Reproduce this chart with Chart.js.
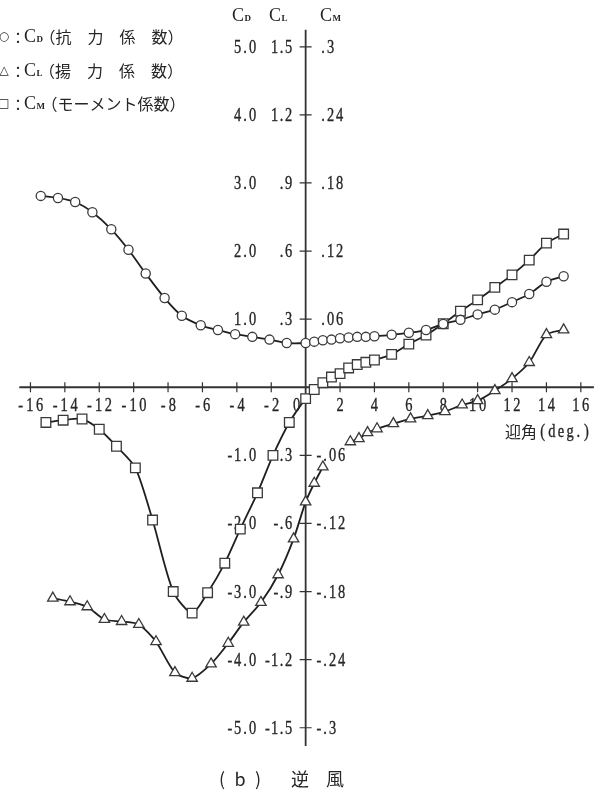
<!DOCTYPE html>
<html>
<head>
<meta charset="utf-8">
<script src="https://cdn.jsdelivr.net/npm/chart.js@4.4.0/dist/chart.umd.min.js"></script>
<style>
  html, body { margin: 0; padding: 0; background: #fff; }
  #wrap { width: 602px; height: 801px; }
</style>
</head>
<body>
<div id="wrap"><canvas id="chart" width="602" height="801"></canvas></div>
<script>
// angle of attack (deg) and coefficients
const cdAngle = [-15.4, -14.4, -13.4, -12.4, -11.3, -10.3, -9.3, -8.2, -7.2, -6.1, -5.1, -4.1, -3.1, -2.1, -1.1,
  0, 0.5, 1, 1.5, 2, 2.5, 3, 3.5, 4, 5, 6, 7, 8, 9, 10, 11, 12, 13, 14, 15];
const cdValue = [2.81, 2.78, 2.72, 2.57, 2.32, 2.02, 1.67, 1.31, 1.05, 0.91, 0.84, 0.78, 0.74, 0.70, 0.65,
  0.65, 0.67, 0.69, 0.70, 0.72, 0.73, 0.74, 0.74, 0.75, 0.77, 0.80, 0.84, 0.93, 0.99, 1.07, 1.14, 1.25, 1.37, 1.55, 1.63];

const clAngle = [-14.7, -13.7, -12.7, -11.7, -10.7, -9.7, -8.7, -7.6, -6.6, -5.5, -4.5, -3.6, -2.6, -1.6, -0.7,
  0, 0.5, 1, 2, 2.6, 3.1, 3.6, 4.15, 5.1, 6.1, 7.1, 8.1, 9.1, 10, 11, 12, 13, 14, 15];
const clValue = [-0.929, -0.945, -0.967, -1.023, -1.032, -1.045, -1.121, -1.257, -1.282, -1.219, -1.128, -1.035, -0.948, -0.826, -0.668,
  -0.505, -0.423, -0.351, null, -0.240, -0.226, -0.200, -0.183, -0.160, -0.139, -0.125, -0.107, -0.078, -0.059, -0.015, 0.038, 0.109, 0.232, 0.253];

const cmAngle = [-15.1, -14.1, -13, -12, -11, -9.9, -8.9, -7.7, -6.6, -5.7, -4.7, -3.8, -2.8, -1.9, -0.95,
  0, 0.5, 1, 1.5, 2, 2.5, 3, 3.5, 4, 5, 6, 7, 8, 9, 10, 11, 12, 13, 14, 15];
const cmValue = [-0.031, -0.029, -0.028, -0.037, -0.052, -0.071, -0.117, -0.180, -0.199, -0.181, -0.155, -0.125, -0.093, -0.060, -0.031,
  -0.010, -0.002, 0.004, 0.009, 0.012, 0.017, 0.020, 0.022, 0.024, 0.029, 0.038, 0.046, 0.056, 0.067, 0.077, 0.088, 0.099, 0.112, 0.127, 0.135];

// tick labels
const xTicks = [-16, -14, -12, -10, -8, -6, -4, -2, 0, 2, 4, 6, 8, 10, 12, 14, 16];
const cdTicks = [5, 4, 3, 2, 1, -1, -2, -3, -4, -5];
const cdTickLabels = ['5.0', '4.0', '3.0', '2.0', '1.0', '-1.0', '-2.0', '-3.0', '-4.0', '-5.0'];
const clTickLabels = ['1.5', '1.2', '.9', '.6', '.3', '-.3', '-.6', '-.9', '-1.2', '-1.5'];
const cmTickLabels = ['.3', '.24', '.18', '.12', '.06', '-.06', '-.12', '-.18', '-.24', '-.3'];

const serif = '"Liberation Serif", "DejaVu Serif", serif';
const cjk = '"Noto Sans CJK JP", "Noto Sans", sans-serif';
const ink = '#262626';

function pairs(xs, ys) {
  return xs.map((v, i) => ({ x: v, y: ys[i] }));
}

// condensed fixed-pitch text like the typewriter labels of the figure
function monoText(ctx, str, x, y, align, digitW, narrowW) {
  const cw = ch => (ch === '.' || ch === '-') ? narrowW : digitW;
  let w = 0;
  for (const ch of str) w += cw(ch);
  let cx = align === 'right' ? x - w : align === 'center' ? x - w / 2 : x;
  ctx.textAlign = 'center';
  ctx.textBaseline = 'middle';
  ctx.lineWidth = 0.35;
  ctx.strokeStyle = ink;
  for (const ch of str) {
    ctx.save();
    ctx.translate(cx + cw(ch) / 2, y);
    ctx.scale(0.76, 1);
    ctx.fillText(ch, 0, 0);
    ctx.strokeText(ch, 0, 0);
    ctx.restore();
    cx += cw(ch);
  }
}

function coefName(ctx, x, y, sub, size) {
  ctx.textAlign = 'left';
  ctx.textBaseline = 'middle';
  ctx.font = size + 'px ' + serif;
  ctx.fillText('C', x, y);
  const w = ctx.measureText('C').width;
  ctx.font = 'bold ' + Math.round(size * 0.5) + 'px ' + serif;
  ctx.fillText(sub, x + w + 0.5, y + size * 0.15);
  return x + w + ctx.measureText(sub).width + 1;
}

const crossAxes = {
  id: 'crossAxes',
  beforeDatasetsDraw(chart) {
    const { ctx } = chart;
    const x = chart.scales.x;
    const y = chart.scales.yCD;
    const x0 = x.getPixelForValue(0);
    const y0 = y.getPixelForValue(0);
    ctx.save();
    ctx.strokeStyle = '#333';
    ctx.lineWidth = 1.8;
    ctx.beginPath();
    ctx.moveTo(x.getPixelForValue(-16.65), y0);
    ctx.lineTo(x.right, y0);
    ctx.moveTo(x0, y.getPixelForValue(5.25));
    ctx.lineTo(x0, y.getPixelForValue(-5.27));
    ctx.stroke();

    ctx.lineWidth = 1.2;
    ctx.beginPath();
    xTicks.forEach(t => {
      if (t === 0) return;
      const px = x.getPixelForValue(t);
      ctx.moveTo(px, y0 - 5);
      ctx.lineTo(px, y0 + 5);
    });
    cdTicks.forEach(t => {
      const py = y.getPixelForValue(t);
      ctx.moveTo(x0 - 6, py);
      ctx.lineTo(x0 + 6, py);
    });
    ctx.stroke();

    ctx.fillStyle = ink;
    ctx.font = '19px ' + serif;
    xTicks.forEach(t => {
      const px = x.getPixelForValue(t);
      if (t === 0) monoText(ctx, '0', px - 9, y0 + 19, 'center', 9.5, 8);
      else monoText(ctx, String(t), px, y0 + 19, 'center', 9.8, 8.5);
    });
    cdTicks.forEach((t, i) => {
      const py = y.getPixelForValue(t) + 1;
      monoText(ctx, cdTickLabels[i], 257, py, 'right', 9, 6);
      monoText(ctx, clTickLabels[i], 293, py, 'right', 8.6, 5.6);
      monoText(ctx, cmTickLabels[i], cmTickLabels[i][0] === '-' ? 316 : 320, py, 'left', 9, 6);
    });

    // column headers
    coefName(ctx, 232, 16, 'D', 18);
    coefName(ctx, 269, 16, 'L', 18);
    coefName(ctx, 320, 16, 'M', 18);

    // axis title
    ctx.font = '16px ' + cjk;
    ctx.textAlign = 'left';
    ctx.textBaseline = 'middle';
    ctx.fillText('迎角', 505, 432);
    ctx.font = '19px ' + serif;
    monoText(ctx, '(deg.)', 538, 432, 'left', 9.2, 7);

    // legend
    const rows = [['○', 'D', '（抗　力　係　数）', 37], ['△', 'L', '（揚　力　係　数）', 71], ['□', 'M', '（モーメント係数）', 104]];
    rows.forEach(r => {
      ctx.font = '12px "DejaVu Sans", sans-serif';
      ctx.textAlign = 'center';
      ctx.fillText(r[0], 4, r[3]);
      ctx.font = '15px ' + cjk;
      ctx.fillText('：', 18, r[3]);
      const nx = coefName(ctx, 24, r[3], r[1], 18);
      ctx.font = '16px ' + cjk;
      ctx.textAlign = 'left';
      ctx.fillText(r[2], nx - 4, r[3]);
    });

    // caption
    ctx.font = '18px ' + cjk;
    ctx.textAlign = 'center';
    ctx.fillText('(', 222, 779);
    ctx.fillText('b', 240, 779);
    ctx.fillText(')', 258, 779);
    ctx.fillText('逆', 300, 779);
    ctx.fillText('風', 335, 779);
    ctx.restore();
  }
};

function series(label, xs, ys, axis, style, radius) {
  return {
    label: label,
    data: pairs(xs, ys),
    yAxisID: axis,
    showLine: true,
    spanGaps: false,
    tension: 0.25,
    borderColor: '#1f1f1f',
    borderWidth: 1.8,
    pointStyle: style,
    pointRadius: radius,
    pointBackgroundColor: '#ffffff',
    pointBorderColor: '#3a3a3a',
    pointBorderWidth: 1.3
  };
}

// scale windows chosen so that all three coefficient axes share one pixel grid
const cdMin = -5.957, cdMax = 5.568;

new Chart(document.getElementById('chart').getContext('2d'), {
  type: 'scatter',
  data: {
    datasets: [
      series('CD', cdAngle, cdValue, 'yCD', 'circle', 4.6),
      series('CL', clAngle, clValue, 'yCL', 'triangle', 6),
      series('CM', cmAngle, cmValue, 'yCM', 'rect', 6.8)
    ]
  },
  options: {
    responsive: false,
    animation: false,
    layout: { padding: 0 },
    plugins: {
      legend: { display: false },
      tooltip: { enabled: false }
    },
    scales: {
      x: { type: 'linear', min: -17.30, max: 16.76, display: false },
      yCD: { type: 'linear', min: cdMin, max: cdMax, display: false },
      yCL: { type: 'linear', min: cdMin * 0.3, max: cdMax * 0.3, display: false },
      yCM: { type: 'linear', min: cdMin * 0.06, max: cdMax * 0.06, display: false }
    }
  },
  plugins: [crossAxes]
});
</script>
</body>
</html>
